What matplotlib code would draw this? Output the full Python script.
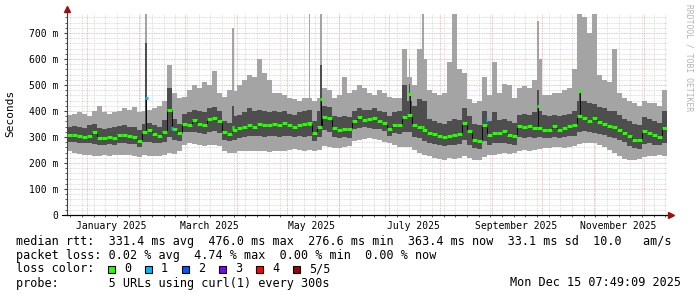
import numpy as np
import pandas as pd
import matplotlib
matplotlib.use("Agg")
import matplotlib.pyplot as plt
import matplotlib.dates as mdates

# time range of the graph (last 360 days) and width of one data bin
start = pd.Timestamp("2024-12-20 07:49:09")
end = pd.Timestamp("2025-12-15 07:49:09")
bin_days = 3

# median rtt per bin (ms)
median = [306, 308, 304, 300, 305, 318, 298, 296, 300, 298, 306, 308, 302, 300, 285,
          318, 325, 310, 305, 318,
          405, 330, 315, 350, 348, 365, 350, 345, 370, 372, 360, 318, 310, 325, 335,
          340, 345, 338, 350, 345, 348, 350, 345, 352, 345, 340, 348, 350, 352, 315,
          340, 375, 372, 335, 328, 332, 330, 362, 375, 365, 368, 372, 360, 355, 330,
          345, 348, 375, 385, 345, 340, 325, 315, 310, 302, 300, 305, 308, 310, 355,
          322, 290, 283, 347, 309, 315, 315, 322, 309, 302, 341, 338, 341, 335, 335,
          328, 326, 341, 328, 335, 341, 347, 380, 373, 360, 373, 356, 351, 344, 338,
          328, 315, 302, 290, 290, 322, 315, 309, 300, 335]

# smoke: highest ping per bin (ms)
smoke_max = [385, 390, 395, 390, 380, 400, 420, 395, 390, 395, 400, 410, 405, 415, 395,
             400, 405, 410, 420, 440,
             575, 470, 450, 455, 480, 500, 490, 510, 500, 555, 470, 455, 480, 475, 500,
             520, 540, 530, 600, 545, 520, 470, 470, 460, 450, 445, 440, 450, 450, 440,
             450, 490, 480, 450, 460, 530, 470, 480, 500, 490, 470, 460, 480, 470, 455,
             450, 450, 640, 530, 500, 640, 600, 480, 470, 460, 470, 590, 773, 560, 545,
             445, 430, 440, 530, 460, 590, 470, 505, 500, 450, 490, 495, 490, 520, 600,
             460, 460, 470, 470, 480, 490, 560, 773, 760, 700, 773, 540, 520, 510, 640,
             470, 450, 440, 430, 420, 440, 430, 430, 420, 480]

# smoke: lowest ping per bin (ms)
smoke_min = [245, 240, 235, 232, 230, 228, 228, 230, 228, 230, 232, 232, 230, 228, 222,
             230, 228, 225, 228, 230,
             238, 235, 245,
             270, 275, 272, 270, 265, 268, 270, 265,
             245, 240, 238, 245,
             245, 248, 245, 248, 245, 242, 245, 248, 245, 250, 252, 250, 248, 250,
             245, 250,
             265, 262, 258, 258, 262, 265,
             285, 290, 292, 295, 292, 288, 280,
             275, 270, 262, 260, 260,
             250, 240, 232, 225, 220, 215, 212, 218, 215, 220,
             225, 218, 212, 210,
             222, 230, 232, 235, 238, 235, 240,
             248, 250, 248, 250, 252,
             256, 258, 260, 260, 258, 260, 265,
             272, 275, 278, 275, 270, 262, 250,
             240, 225, 215, 212, 212, 215,
             222, 226, 228, 230, 228]

# smoke: inner (second / fourth ping) band per bin (ms)
inner_max = [338, 342, 340, 335, 345, 350, 336, 332, 335, 338, 342, 345, 340, 338, 325,
             350, 355, 345, 340, 365,
             490, 370, 350, 390, 395, 405, 400, 395, 410, 415, 400, 360, 355, 380, 385,
             395, 410, 400, 405, 400, 395, 400, 395, 400, 390, 385, 395, 400, 405, 360,
             400, 420, 415, 380, 375, 380, 378, 400, 410, 405, 402, 410, 400, 395, 380,
             395, 400, 500, 440, 420, 445, 440, 370, 360, 355, 350, 360, 370, 365, 410,
             380, 350, 345, 400, 360, 395, 365, 370, 360, 355, 385, 390, 385, 395, 400,
             385, 382, 385, 380, 385, 390, 400, 440, 440, 430, 425, 415, 410, 400, 400,
             385, 370, 360, 350, 345, 375, 370, 360, 355, 400]

inner_min = [282, 280, 278, 275, 276, 272, 270, 270, 272, 270, 275, 276, 274, 272, 262,
             280, 282, 278, 276, 280,
             300, 290, 285,
             318, 320, 318, 315, 312, 320, 322, 315,
             290, 285, 290, 295,
             300, 305, 302, 305, 300, 302, 305, 300, 305, 302, 300, 305, 300, 305,
             285, 300,
             325, 320, 300, 295, 300, 298,
             330, 335, 338, 335, 332, 330, 322,
             305, 315, 310, 320, 320,
             300, 295, 285, 278, 272, 268, 265, 270, 268, 272,
             290, 270, 258, 252,
             285, 270, 275, 278, 278, 272, 270,
             300, 298, 300, 298, 300,
             295, 295, 300, 298, 300, 302, 305,
             320, 322, 318, 315, 312, 308, 300,
             298, 290, 280, 265, 258, 255,
             272, 275, 270, 268, 275]

# narrow one-day spikes (day offset from start)
spike_days = [47, 99, 145, 152, 205, 213, 282, 307]
spike_max = [773, 719, 773, 773, 600, 773, 745, 773]
spike_inner = [660, 420, 380, 578, 505, 440, 482, 470]
spike_median = [450, 340, 350, 446, 465, 340, 418, 476]
spike_loss = [1, 0, 0, 0, 0, 0, 0, 0]

# single medians with one lost ping
loss1_days = [63, 252]
loss1_rtt = [335, 364]

# legend / loss colours
loss_labels = ["0", "1", "2", "3", "4", "5/5"]
loss_colors = ["#26ff00", "#00b8ff", "#0059ff", "#7e00ff", "#ff0000", "#a10000"]

ytick_values = [0, 100, 200, 300, 400, 500, 600, 700]
ytick_labels = ["0", "100 m", "200 m", "300 m", "400 m", "500 m", "600 m", "700 m"]
xtick_labels = ["January 2025", "March 2025", "May 2025", "July 2025",
                "September 2025", "November 2025"]
xtick_dates = ["2025-01-16", "2025-03-16", "2025-05-16", "2025-07-16",
               "2025-09-16", "2025-11-16"]

stats_rtt = "median rtt:  331.4 ms avg  476.0 ms max  276.6 ms min  363.4 ms now  33.1 ms sd  10.0   am/s"
stats_loss = "packet loss: 0.02 % avg  4.74 % max  0.00 % min  0.00 % now"
probe_text = "probe:       5 URLs using curl(1) every 300s"
stamp_text = "Mon Dec 15 07:49:09 2025"

light = "#a4a4a4"
dark = "#4e4e4e"
mono = "DejaVu Sans Mono"

# figure and plot area placed like rrdtool does
fig = plt.figure(figsize=(6.97, 2.97), dpi=100)
ax = fig.add_axes([67 / 697, 82 / 297, 600 / 697, 201 / 297])

x0 = mdates.date2num(start.to_pydatetime())
x1 = mdates.date2num(end.to_pydatetime())
edges = x0 + np.arange(len(median) + 1) * bin_days


def closed(values):
    return list(values) + [values[-1]]


# grid first, the smoke covers it
for y in range(20, 780, 20):
    if y % 100 == 0:
        ax.axhline(y, color="#e8a8a8", lw=0.6, ls=(0, (1, 1)), zorder=0)
    else:
        ax.axhline(y, color="#d4d4d4", lw=0.6, ls=(0, (1, 1)), zorder=0)
weeks = mdates.date2num(pd.date_range(start, end, freq="W-SUN").to_pydatetime())
months = mdates.date2num(pd.date_range(start, end, freq="MS").to_pydatetime())
for w in weeks:
    ax.axvline(w, color="#d4d4d4", lw=0.6, ls=(0, (1, 1)), zorder=0)
for m in months:
    ax.axvline(m, color="#e8a8a8", lw=0.6, ls=(0, (1, 1)), zorder=0)

# outer smoke
ax.fill_between(edges, closed(smoke_min), closed(smoke_max), step="post",
                color=light, lw=0, zorder=1)
sp_x = x0 + np.array(spike_days) + 0.5
sp_base = [inner_max[d // bin_days] for d in spike_days]
ax.bar(sp_x, np.array(spike_max) - np.array(sp_base), bottom=sp_base, width=1.0,
       color=light, lw=0, zorder=1)

# inner smoke
ax.fill_between(edges, closed(inner_min), closed(inner_max), step="post",
                color=dark, lw=0, zorder=2)
ax.bar(sp_x, np.array(spike_inner) - np.array(sp_base), bottom=sp_base, width=1.0,
       color=dark, lw=0, zorder=2)

# median line: black connectors, coloured by loss
ax.step(edges, closed(median), where="post", color="black", lw=0.6, zorder=3)
sp_from = [median[d // bin_days] for d in spike_days]
ax.vlines(sp_x, sp_from, spike_median, color="black", lw=0.6, zorder=3)
ax.hlines(median, edges[:-1], edges[1:], color=loss_colors[0], lw=2.2, zorder=4)
ax.hlines(spike_median, sp_x - 0.8, sp_x + 0.8,
          color=[loss_colors[i] for i in spike_loss], lw=2.2, zorder=5)
l1_x = x0 + np.array(loss1_days)
ax.hlines(loss1_rtt, l1_x - 0.8, l1_x + 0.8, color=loss_colors[1], lw=2.2, zorder=5)

ax.set_xlim(x0, x1)
ax.set_ylim(0, 773)

# axes, ticks and arrows
for side in ["top", "right"]:
    ax.spines[side].set_visible(False)
ax.spines["left"].set_color("#404040")
ax.spines["bottom"].set_color("black")
ax.spines["left"].set_linewidth(0.8)
ax.spines["bottom"].set_linewidth(0.8)
ax.plot([0, 0], [1, 1.02], transform=ax.transAxes, color="#404040", lw=0.8, clip_on=False)
ax.plot([-0.008, 1.004], [0, 0], transform=ax.transAxes, color="black", lw=0.8, clip_on=False)
ax.plot(0, 1.025, marker="^", ms=4, color="#9a1010", transform=ax.transAxes, clip_on=False)
ax.plot(1.006, 0, marker=">", ms=4, color="#9a1010", transform=ax.transAxes, clip_on=False)

ax.set_yticks(ytick_values)
ax.set_yticklabels(ytick_labels, family=mono, fontsize=7)
ax.set_yticks(range(20, 780, 20), minor=True)
ax.tick_params(axis="y", which="major", length=2, pad=4, color="#404040")
ax.tick_params(axis="y", which="minor", length=1.5, color="#404040")

ax.set_xticks(mdates.date2num(pd.to_datetime(xtick_dates).to_pydatetime()))
ax.set_xticklabels(xtick_labels, family=mono, fontsize=7)
ax.set_xticks(weeks, minor=True)
ax.tick_params(axis="x", which="major", length=0, pad=4)
ax.tick_params(axis="x", which="minor", length=1.5, color="#404040")

fig.text(10.5 / 697, 1 - 113 / 297, "Seconds", rotation=90, family=mono, fontsize=8,
         ha="center", va="center")
fig.text(689 / 697, 1 - 4 / 297, "RRDTOOL / TOBI OETIKER", rotation=270, family=mono,
         fontsize=5.8, color="#b4b4b4", ha="center", va="top")

# legend lines underneath
fig.text(16 / 697, 1 - 241 / 297, stats_rtt, family=mono, fontsize=8.5, va="center")
fig.text(16 / 697, 1 - 255 / 297, stats_loss, family=mono, fontsize=8.5, va="center")
fig.text(16 / 697, 1 - 269 / 297, "loss color:", family=mono, fontsize=8.5, va="center")
for i, (lab, col) in enumerate(zip(loss_labels, loss_colors)):
    bx = 108 + i * 37
    fig.patches.append(plt.Rectangle((bx / 697, 1 - 273 / 297), 7 / 697, 7 / 297,
                                     transform=fig.transFigure, facecolor=col,
                                     edgecolor="black", lw=0.8))
    fig.text((bx + 16) / 697, 1 - 269 / 297, lab, family=mono, fontsize=8.5, va="center")
fig.text(16 / 697, 1 - 283 / 297, probe_text, family=mono, fontsize=8.5, va="center")
fig.text(681 / 697, 1 - 283 / 297, stamp_text, family=mono, fontsize=8.5, va="center",
         ha="right")

fig.savefig("out.png", dpi=100, facecolor="white")
